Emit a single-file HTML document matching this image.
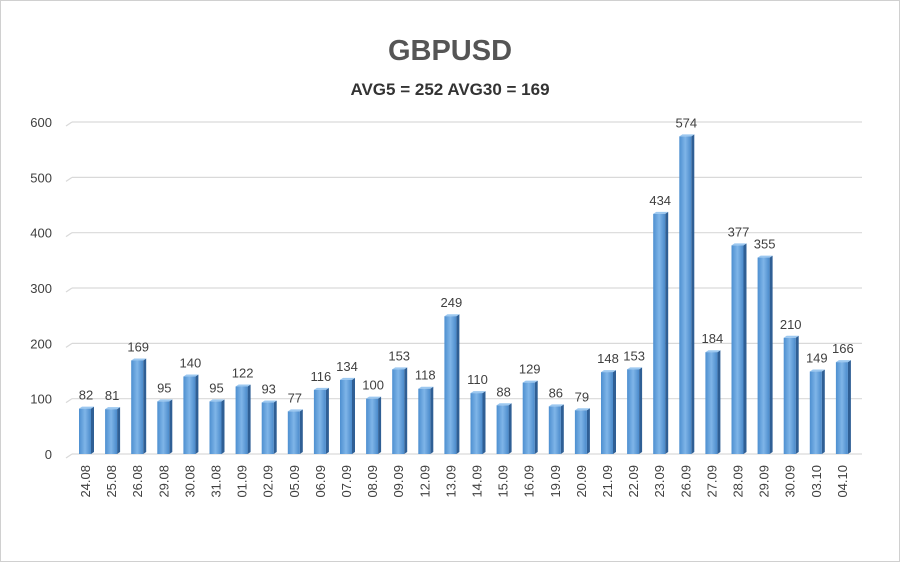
<!DOCTYPE html><html><head><style>body{margin:0;background:#fff}svg{display:block}text{font-family:"Liberation Sans",sans-serif}</style></head><body>
<svg width="900" height="562" xmlns="http://www.w3.org/2000/svg">
<defs><linearGradient id="g" x1="0" x2="1"><stop offset="0" stop-color="#4d8fd0"/><stop offset="0.5" stop-color="#7fb5e8"/><stop offset="1" stop-color="#4a8acb"/></linearGradient></defs>
<rect x="0.5" y="0.5" width="899" height="561" fill="#fff" stroke="#d0d0d0"/>
<text x="450" y="60" font-size="29" font-weight="bold" fill="#555" text-anchor="middle">GBPUSD</text>
<text x="450" y="95" font-size="17" font-weight="bold" fill="#333" text-anchor="middle">AVG5 = 252 AVG30 = 169</text>
<g id="grid" stroke="#d9d9d9" stroke-width="1.2"></g>
<g id="bars"></g>
<g id="lab" font-size="13" fill="#404040"></g>
</svg>
<script>
const ns="http://www.w3.org/2000/svg";
const v=[82,81,169,95,140,95,122,93,77,116,134,100,153,118,249,110,88,129,86,79,148,153,434,574,184,377,355,210,149,166];
const d=["24.08","25.08","26.08","29.08","30.08","31.08","01.09","02.09","05.09","06.09","07.09","08.09","09.09","12.09","13.09","14.09","15.09","16.09","19.09","20.09","21.09","22.09","23.09","26.09","27.09","28.09","29.09","30.09","03.10","04.10"];
function el(t,a,p,txt){const e=document.createElementNS(ns,t);for(const k in a)e.setAttribute(k,a[k]);if(txt!==undefined)e.textContent=txt;document.getElementById(p).appendChild(e);return e;}
const y0=454,s=0.5533;
for(let i=0;i<=6;i++){const y=y0-i*100*s;el("line",{x1:72,x2:862,y1:y,y2:y},"grid");el("line",{x1:66,x2:72,y1:y+4,y2:y},"grid");
el("text",{x:52,y:y+5,"text-anchor":"end"},"lab",i*100);}
v.forEach((val,i)=>{const cx=85+i*26.1,h=val*s,x=cx-6,y=y0-h;
el("polygon",{points:`${x+12},${y} ${x+15},${y-2} ${x+15},${y0-2} ${x+12},${y0}`,fill:"#2f5f95"},"bars");
el("polygon",{points:`${x},${y} ${x+3},${y-2} ${x+15},${y-2} ${x+12},${y}`,fill:"#9cc8f0"},"bars");
el("rect",{x:x,y:y,width:12,height:h,fill:"url(#g)"},"bars");
el("text",{x:cx+1,y:y-9,"text-anchor":"middle"},"lab",val);
el("text",{x:0,y:0,"text-anchor":"end",transform:`translate(${cx+5},465) rotate(-90)`},"lab",d[i]);});
</script></body></html>
